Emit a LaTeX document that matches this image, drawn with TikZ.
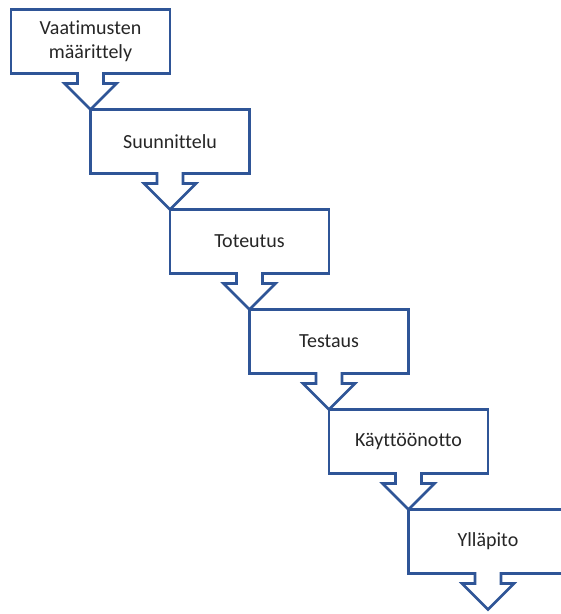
\documentclass[tikz,border=0pt]{standalone}
\usepackage{fontspec}
\setmainfont{Carlito}[Ligatures=NoCommon]
\usetikzlibrary{positioning}

\definecolor{stepblue}{RGB}{47,85,151}

\begin{document}
\begin{tikzpicture}[
    % Define node styles
    stepbox/.style={rectangle, draw=stepblue, line width=2.6pt, fill=white,
                minimum width=159pt, minimum height=64pt, inner sep=0pt,
                outer sep=0pt, align=center, text=black!85,
                font=\fontsize{20}{24}\selectfont},
    callout/.style={draw=stepblue, fill=white, line width=2.6pt, line join=miter}
]
    \clip (0,0) rectangle (561pt,614pt);

    % Create nodes
    \node[stepbox, anchor=north west] (req) at (11pt,604.5pt) {Vaatimusten\\määrittely};
    \node[stepbox, below=36pt of req.south, anchor=north west] (design) {Suunnittelu};
    \node[stepbox, below=36pt of design.south, anchor=north west] (impl) {Toteutus};
    \node[stepbox, below=36pt of impl.south, anchor=north west] (test) {Testaus};
    \node[stepbox, below=36pt of test.south, anchor=north west] (deploy) {Käyttöönotto};
    \node[stepbox, below=36pt of deploy.south, anchor=north west] (maint) {Ylläpito};
    \coordinate[below=36pt of maint.south] (end);

    % Draw arrows between nodes
    \filldraw[callout] ([xshift=-13pt, yshift=1.3pt]req.south) -- ++(0,-11.3pt) -- ++(-13pt,0)
        -- (design.north west) -- ++(26pt,26pt) -- ++(-13pt,0) -- ++(0,11.3pt);
    \filldraw[callout] ([xshift=-13pt, yshift=1.3pt]design.south) -- ++(0,-11.3pt) -- ++(-13pt,0)
        -- (impl.north west) -- ++(26pt,26pt) -- ++(-13pt,0) -- ++(0,11.3pt);
    \filldraw[callout] ([xshift=-13pt, yshift=1.3pt]impl.south) -- ++(0,-11.3pt) -- ++(-13pt,0)
        -- (test.north west) -- ++(26pt,26pt) -- ++(-13pt,0) -- ++(0,11.3pt);
    \filldraw[callout] ([xshift=-13pt, yshift=1.3pt]test.south) -- ++(0,-11.3pt) -- ++(-13pt,0)
        -- (deploy.north west) -- ++(26pt,26pt) -- ++(-13pt,0) -- ++(0,11.3pt);
    \filldraw[callout] ([xshift=-13pt, yshift=1.3pt]deploy.south) -- ++(0,-11.3pt) -- ++(-13pt,0)
        -- (maint.north west) -- ++(26pt,26pt) -- ++(-13pt,0) -- ++(0,11.3pt);
    \filldraw[callout] ([xshift=-13pt, yshift=1.3pt]maint.south) -- ++(0,-11.3pt) -- ++(-13pt,0)
        -- (end) -- ++(26pt,26pt) -- ++(-13pt,0) -- ++(0,11.3pt);
\end{tikzpicture}
\end{document}
